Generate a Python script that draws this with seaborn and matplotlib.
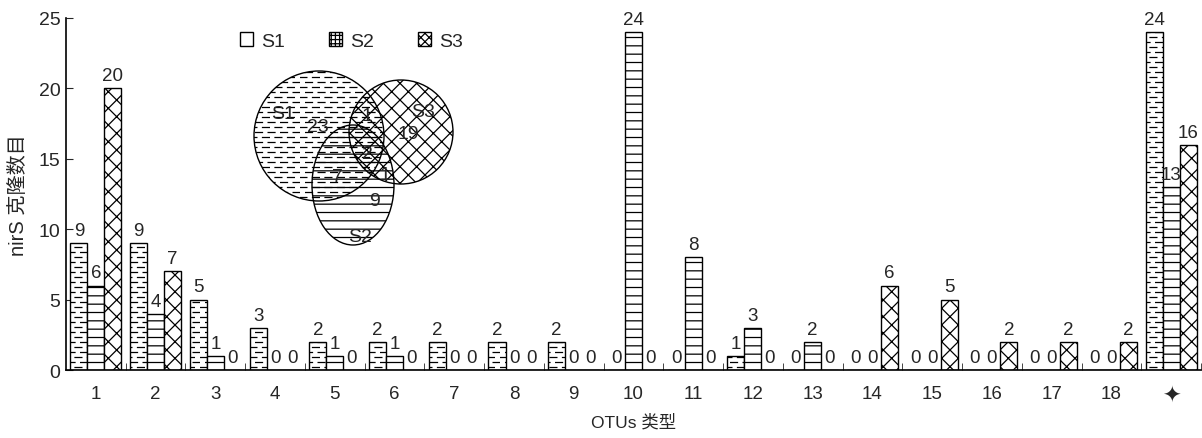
import warnings

import matplotlib.pyplot as plt
import numpy as np
import pandas as pd
import seaborn as sns
from matplotlib import hatch as mhatch
from matplotlib.patches import Ellipse, Patch
from matplotlib.path import Path
from matplotlib.ticker import FixedLocator

warnings.filterwarnings("ignore")

# data
categories = [str(i) for i in range(1, 19)] + ["\u2726"]
s1 = [9, 9, 5, 3, 2, 2, 2, 2, 2, 0, 0, 1, 0, 0, 0, 0, 0, 0, 24]
s2 = [6, 4, 1, 0, 1, 1, 0, 0, 0, 24, 8, 3, 2, 0, 0, 0, 0, 0, 13]
s3 = [20, 7, 0, 0, 0, 0, 0, 0, 0, 0, 0, 0, 0, 6, 5, 2, 2, 2, 16]
samples = ["S1", "S2", "S3"]

# venn diagram counts
venn_labels = ["S1", "S3", "S2"]
venn_counts = {"S1": 23, "S3": 19, "S2": 9, "S1S3": 1, "S1S2": 7, "S2S3": 1, "all": 2}


# short staggered dashes hatch, triggered by 'd'
class DashHatch(mhatch.HatchPatternBase):
    def __init__(self, hatch, density):
        n = hatch.count("d")
        self.rows = 20 * n
        self.ndash = 8
        self.num_vertices = self.rows * self.ndash * 2

    def set_vertices_and_codes(self, vertices, codes):
        k = 0
        seg = 0.55 / self.ndash
        for r in range(self.rows):
            y = (r + 0.5) / self.rows
            off = 0.45 * (r % 2)
            for j in range(self.ndash):
                x0 = (j + off) / self.ndash
                vertices[k] = (x0, y)
                vertices[k + 1] = (x0 + seg, y)
                codes[k] = Path.MOVETO
                codes[k + 1] = Path.LINETO
                k += 2


mhatch._hatch_types.append(DashHatch)

sns.set_style("ticks")
plt.rcParams["font.family"] = ["Liberation Sans", "DejaVu Sans", "Noto Sans CJK SC"]
plt.rcParams["hatch.linewidth"] = 0.9

df = pd.DataFrame({"otu": categories * 3, "sample": np.repeat(samples, len(categories)),
                   "count": s1 + s2 + s3})

fig = plt.figure(figsize=(12.02, 4.39), dpi=100)
ax_l, ax_r, ax_b, ax_t = 66, 1201, 371, 19
ax = fig.add_axes([ax_l / 1202, 1 - ax_b / 439, (ax_r - ax_l) / 1202, (ax_b - ax_t) / 439])

sns.barplot(data=df, x="otu", y="count", hue="sample", palette=["white"] * 3,
            width=0.855, edgecolor="black", linewidth=1.0, legend=False, ax=ax)

hatches = ["d", "--", "xx"]
for cont, h in zip(ax.containers, hatches):
    for bar in cont:
        bar.set_hatch(h)
        bar.set_facecolor("white")
        bar.set_edgecolor("black")
    ax.bar_label(cont, fmt="%d", padding=3, fontsize=13.5)

ax.set_xlim(-0.5, len(categories) - 0.5)
ax.set_ylim(0, 25)
ax.set_yticks([0, 5, 10, 15, 20, 25])
ax.tick_params(axis="y", direction="in", length=5, pad=4, labelsize=14)
ax.tick_params(axis="x", which="major", length=0, pad=11, labelsize=13.5)
ax.get_xticklabels()[-1].set_fontsize(16)
ax.xaxis.set_minor_locator(FixedLocator(np.arange(0.5, len(categories), 1.0)))
ax.tick_params(axis="x", which="minor", direction="in", length=5)
for s in ["top", "right"]:
    ax.spines[s].set_visible(False)
for s in ["left", "bottom"]:
    ax.spines[s].set_color("black")
    ax.spines[s].set_linewidth(1.2)

ax.set_xlabel("OTUs 类型", fontsize=12.5, labelpad=5)
ax.set_ylabel("nirS 克隆数目", fontsize=14.5, labelpad=8)

# legend
handles = [Patch(facecolor="white", edgecolor="black", label="S1"),
           Patch(facecolor="white", edgecolor="black", hatch="++++", label="S2"),
           Patch(facecolor="white", edgecolor="black", hatch="xxxx", label="S3")]
ax.legend(handles=handles, loc="center left", bbox_to_anchor=(0.153, 0.935), ncol=3,
          frameon=False, fontsize=14, handlelength=0.7, handleheight=0.7, borderpad=0,
          borderaxespad=0, handletextpad=0.4, columnspacing=2.25)


# venn diagram, placed by reference pixel positions
def to_ax(px, py):
    return (px - ax_l) / (ax_r - ax_l), (ax_b - py) / (ax_b - ax_t)


def shape(cx, cy, rx, ry, h):
    x, y = to_ax(cx, cy)
    e = Ellipse((x, y), 2 * rx / (ax_r - ax_l), 2 * ry / (ax_b - ax_t), transform=ax.transAxes,
                facecolor="none", edgecolor="black", hatch=h, linewidth=1.0, zorder=5)
    ax.add_patch(e)


shape(319, 137, 65, 65, "d")
shape(401, 133, 52, 52, "xx")
shape(353, 186, 41, 60, "--")

venn_text = [(283, 115, venn_labels[0]), (318, 128, str(venn_counts["S1"])),
             (367, 117, str(venn_counts["S1S3"])), (423, 113, venn_labels[1]),
             (408, 135, str(venn_counts["S3"])), (367, 155, str(venn_counts["all"])),
             (337, 178, str(venn_counts["S1S2"])), (385, 175, str(venn_counts["S2S3"])),
             (375, 202, str(venn_counts["S2"])), (360, 238, venn_labels[2])]
for px, py, t in venn_text:
    x, y = to_ax(px, py)
    ax.text(x, y, t, transform=ax.transAxes, ha="center", va="center", fontsize=14, zorder=6)

fig.savefig("out.png", dpi=100)
